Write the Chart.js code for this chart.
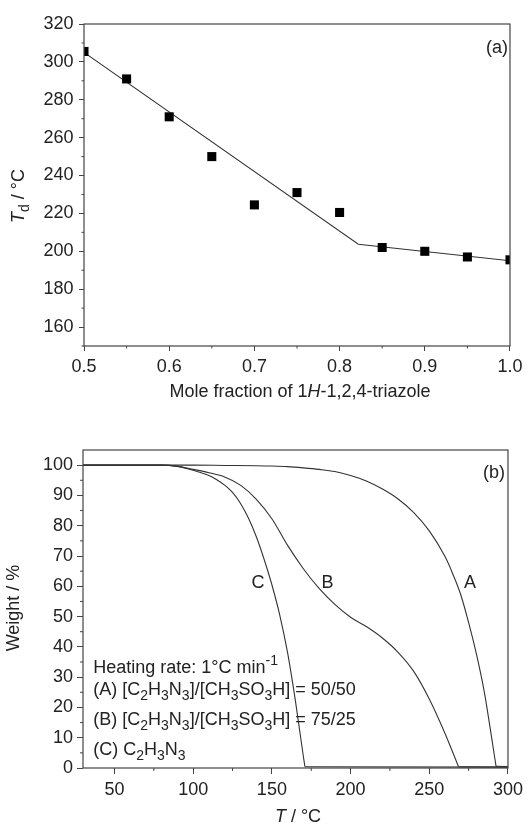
<!DOCTYPE html>
<html><head><meta charset="utf-8">
<script src="https://cdn.jsdelivr.net/npm/chart.js@4"></script>
<style>
html,body{margin:0;padding:0;background:#fff;}
#wrap{position:relative;width:528px;height:827px;overflow:hidden;}
canvas{position:absolute;left:0;}
</style></head><body>
<div id="wrap">
<canvas id="c1" width="528" height="430" style="top:0px"></canvas>
<canvas id="c2" width="528" height="397" style="top:430px"></canvas>
</div>
<script>
// ---------- Panel (a) data ----------
const fracX = [0.5, 0.55, 0.6, 0.65, 0.7, 0.75, 0.8, 0.85, 0.9, 0.95, 1.0];
const tdY   = [305.5, 291, 271, 250, 224.5, 231, 220.5, 202, 200, 197, 195.5];
const fitX  = [0.5, 0.822, 1.0];
const fitY  = [305, 203.7, 195];
const topXTicks = [0.5, 0.6, 0.7, 0.8, 0.9, 1.0];
const topYTicks = [160, 180, 200, 220, 240, 260, 280, 300, 320];
const topXMinor = [0.55, 0.65, 0.75, 0.85, 0.95];
const topYMinor = [150, 170, 190, 210, 230, 250, 270, 290, 310];

// ---------- Panel (b) data (last point = end of the flat residue line) ----------
const tempA   = [30, 100, 120, 140, 150, 160, 170, 180, 190, 200, 210, 220, 230, 240, 250, 260, 265, 270, 275, 280, 285, 290, 292.4, 300];
const weightA = [100, 100, 99.9, 99.8, 99.7, 99.5, 99.1, 98.6, 97.9, 96.6, 94.8, 92.2, 88.9, 84.4, 78.3, 69.8, 64.0, 57.2, 48.0, 37.5, 25.0, 8.7, 0.6, 0.5];
const tempB   = [30, 80, 90, 100, 110, 120, 130, 140, 150, 160, 170, 180, 190, 200, 210, 220, 230, 240, 250, 260, 268.6, 300];
const weightB = [100, 100, 99.6, 98.6, 97.5, 96.1, 93.4, 88.8, 82.3, 73.5, 65.8, 59.3, 54.0, 49.8, 46.7, 43.0, 38.3, 32.0, 22.8, 11.4, 0.4, 0.3];
const tempC   = [30, 80, 90, 100, 110, 115, 120, 125, 130, 135, 140, 145, 150, 155, 160, 165, 170, 171, 300];
const weightC = [100, 100, 99.6, 98.3, 96.6, 95.2, 93.4, 91.0, 87.4, 82.6, 76.5, 69.0, 60.5, 50.5, 38.0, 22.0, 3.8, 0.4, 0.3];
const botXTicks = [50, 100, 150, 200, 250, 300];
const botYTicks = [0, 10, 20, 30, 40, 50, 60, 70, 80, 90, 100];
const botXMinor = [75, 125, 175, 225, 275];
const botYMinor = [5, 15, 25, 35, 45, 55, 65, 75, 85, 95];

const FONT = '"Liberation Sans", Arial, Helvetica, sans-serif';
const INK = '#222';
const AXIS = '#444';

function richText(ctx, segs, x, y, align, size, rot) {
  ctx.save();
  ctx.translate(x, y);
  if (rot) ctx.rotate(-Math.PI / 2);
  let w = 0;
  const parts = segs.map(sg => {
    const fs = sg.s ? Math.round(size * 0.76) : size;
    const font = (sg.i ? 'italic ' : '') + fs + 'px ' + FONT;
    ctx.font = font;
    const m = ctx.measureText(sg.t).width;
    w += m;
    return {t: sg.t, font, w: m, dy: sg.s === 'sub' ? size * 0.3 : sg.s === 'sup' ? -size * 0.42 : 0};
  });
  let cx = align === 'center' ? -w / 2 : align === 'right' ? -w : 0;
  ctx.textBaseline = 'alphabetic';
  ctx.textAlign = 'left';
  ctx.fillStyle = INK;
  for (const p of parts) { ctx.font = p.font; ctx.fillText(p.t, cx, p.dy); cx += p.w; }
  ctx.restore();
}

function decoPlugin(cfg) {
  return {
    id: 'deco',
    afterDraw(chart) {
      const ctx = chart.ctx, a = chart.chartArea, xs = chart.scales.x, ys = chart.scales.y;
      ctx.save();
      ctx.strokeStyle = AXIS; ctx.lineWidth = 1.2;
      ctx.strokeRect(a.left, a.top, a.right - a.left, a.bottom - a.top);
      ctx.lineWidth = 1;
      ctx.beginPath();
      cfg.xMinor.forEach(v => { const p = xs.getPixelForValue(v); ctx.moveTo(p, a.bottom); ctx.lineTo(p, a.bottom + cfg.minorLen); });
      cfg.yMinor.forEach(v => { const p = ys.getPixelForValue(v); ctx.moveTo(a.left, p); ctx.lineTo(a.left - cfg.minorLen, p); });
      ctx.stroke();
      ctx.restore();
      cfg.texts.forEach(t => richText(ctx, t.segs, t.x, t.y, t.align, t.size, t.rot));
    }
  };
}

function axisX(min, max, ticksArr, fmt, pad, tl, h) {
  return {
    type: 'linear', min, max,
    afterBuildTicks: s => { s.ticks = ticksArr.map(v => ({value: v})); },
    afterFit: s => { s.height = h; },
    grid: {display: true, drawOnChartArea: false, drawTicks: true, tickLength: tl, tickColor: AXIS, tickWidth: 1},
    border: {display: false},
    ticks: {color: INK, font: {family: FONT, size: 18}, padding: pad, maxRotation: 0, autoSkip: false, callback: fmt}
  };
}
function axisY(min, max, ticksArr, pad, tl, w) {
  return {
    type: 'linear', min, max,
    afterBuildTicks: s => { s.ticks = ticksArr.map(v => ({value: v})); },
    afterFit: s => { s.width = w; },
    grid: {display: true, drawOnChartArea: false, drawTicks: true, tickLength: tl, tickColor: AXIS, tickWidth: 1},
    border: {display: false},
    ticks: {color: INK, font: {family: FONT, size: 18}, padding: pad, autoSkip: false, callback: v => String(v)}
  };
}

const S = 18;
// ---------- Chart (a) ----------
new Chart(document.getElementById('c1'), {
  type: 'scatter',
  data: {
    datasets: [
      {data: fracX.map((v, i) => ({x: v, y: tdY[i]})), pointStyle: 'rect', pointRadius: 6.4,
       backgroundColor: '#000', borderColor: '#000', borderWidth: 0, showLine: false, clip: 0},
      {data: fitX.map((v, i) => ({x: v, y: fitY[i]})), showLine: true, pointRadius: 0,
       borderColor: '#333', borderWidth: 1.1, tension: 0, clip: 0}
    ]
  },
  options: {
    responsive: false, animation: false, devicePixelRatio: 1,
    layout: {padding: {top: 24, right: 14, left: 0, bottom: 0}},
    plugins: {legend: {display: false}, tooltip: {enabled: false}},
    scales: {
      x: axisX(0.5, 1.0, topXTicks, v => v.toFixed(1), 5.5, 5, 84),
      y: axisY(150, 320, topYTicks, 5.5, 5, 84)
    }
  },
  plugins: [decoPlugin({
    xMinor: topXMinor, yMinor: topYMinor, minorLen: 2.5,
    texts: [
      {segs: [{t: '(a)'}], x: 508, y: 53, align: 'right', size: S},
      {segs: [{t: 'T', i: 1}, {t: 'd', s: 'sub'}, {t: ' / °C'}], x: 24, y: 196, align: 'center', size: S, rot: 1},
      {segs: [{t: 'Mole fraction of 1'}, {t: 'H', i: 1}, {t: '-1,2,4-triazole'}], x: 300, y: 397, align: 'center', size: S}
    ]
  })]
});

// ---------- Chart (b) ----------
const pts = (tx, wy) => tx.map((v, i) => ({x: v, y: wy[i]}));
const curve = d => ({data: d, showLine: true, pointRadius: 0, borderColor: '#333', borderWidth: 1.1,
  cubicInterpolationMode: 'monotone', clip: 0});
const flat = d => ({data: d, showLine: true, pointRadius: 0, borderColor: '#333', borderWidth: 1.1, tension: 0, clip: 0});
function series(tx, wy) {
  const all = pts(tx, wy);
  return [curve(all.slice(0, -1)), flat(all.slice(-2))];
}
const sub = t => ({t, s: 'sub'});
new Chart(document.getElementById('c2'), {
  type: 'scatter',
  data: {datasets: [...series(tempA, weightA), ...series(tempB, weightB), ...series(tempC, weightC)]},
  options: {
    responsive: false, animation: false, devicePixelRatio: 1,
    layout: {padding: {top: 20, right: 16, left: 0, bottom: 0}},
    plugins: {legend: {display: false}, tooltip: {enabled: false}},
    scales: {
      x: axisX(30, 300, botXTicks, v => String(v), 5, 6, 59),
      y: axisY(0, 105, botYTicks, 4, 6, 83)
    }
  },
  plugins: [decoPlugin({
    xMinor: botXMinor, yMinor: botYMinor, minorLen: 3,
    texts: [
      {segs: [{t: '(b)'}], x: 505, y: 48, align: 'right', size: S},
      {segs: [{t: 'C'}], x: 258, y: 158, align: 'center', size: S},
      {segs: [{t: 'B'}], x: 327.5, y: 158, align: 'center', size: S},
      {segs: [{t: 'A'}], x: 470, y: 158, align: 'center', size: S},
      {segs: [{t: 'Heating rate: 1°C min'}, {t: '-1', s: 'sup'}], x: 93.3, y: 243, align: 'left', size: S},
      {segs: [{t: '(A) [C'}, sub('2'), {t: 'H'}, sub('3'), {t: 'N'}, sub('3'), {t: ']/[CH'}, sub('3'), {t: 'SO'}, sub('3'), {t: 'H] = 50/50'}], x: 93.3, y: 265, align: 'left', size: S},
      {segs: [{t: '(B) [C'}, sub('2'), {t: 'H'}, sub('3'), {t: 'N'}, sub('3'), {t: ']/[CH'}, sub('3'), {t: 'SO'}, sub('3'), {t: 'H] = 75/25'}], x: 93.3, y: 295, align: 'left', size: S},
      {segs: [{t: '(C) C'}, sub('2'), {t: 'H'}, sub('3'), {t: 'N'}, sub('3')], x: 93.3, y: 325, align: 'left', size: S},
      {segs: [{t: 'T', i: 1}, {t: ' / °C'}], x: 298, y: 392, align: 'center', size: S},
      {segs: [{t: 'Weight / %'}], x: 19, y: 178, align: 'center', size: S, rot: 1}
    ]
  })]
});
</script>
</body></html>
